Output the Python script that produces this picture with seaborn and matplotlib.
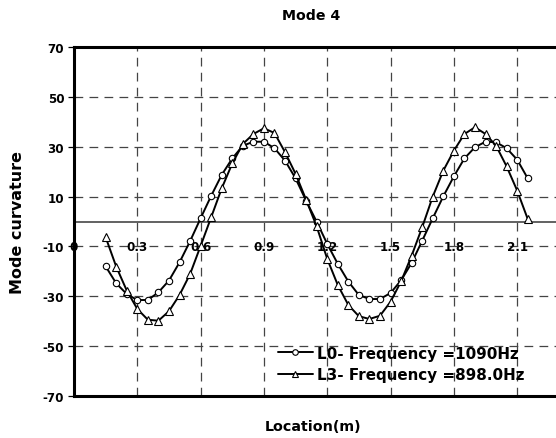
import matplotlib
matplotlib.use("Agg")
import matplotlib.pyplot as plt
import seaborn as sns
import pandas as pd

sns.set_style("white")
plt.rcParams["font.family"] = ["DejaVu Sans"]
plt.rcParams["font.weight"] = "bold"
plt.rcParams["text.color"] = "black"
plt.rcParams["axes.labelcolor"] = "black"
plt.rcParams["xtick.color"] = "black"
plt.rcParams["ytick.color"] = "black"

# Measurement locations along the member (m)
location = [0.15, 0.20, 0.25, 0.30, 0.35, 0.40, 0.45, 0.50, 0.55, 0.60,
            0.65, 0.70, 0.75, 0.80, 0.85, 0.90, 0.95, 1.00, 1.05, 1.10,
            1.15, 1.20, 1.25, 1.30, 1.35, 1.40, 1.45, 1.50, 1.55, 1.60,
            1.65, 1.70, 1.75, 1.80, 1.85, 1.90, 1.95, 2.00, 2.05, 2.10,
            2.15]

# Mode-4 curvature, intact state L0
curv_l0 = [-18.0, -24.8, -29.1, -31.5, -31.5, -28.4, -23.7, -16.4, -7.9, 1.3,
           10.3, 18.7, 25.3, 30.4, 32.0, 32.0, 29.4, 24.4, 17.3, 8.3,
           -0.1, -9.0, -17.0, -24.1, -29.5, -31.1, -31.1, -28.7, -23.6, -16.6,
           -7.7, 1.3, 10.1, 18.1, 25.3, 29.8, 32.0, 31.8, 29.4, 24.8,
           17.3]

# Mode-4 curvature, damage state L3
curv_l3 = [-6.3, -18.1, -27.7, -35.1, -39.4, -39.8, -36.0, -29.5, -21.1, -9.8,
           1.7, 13.3, 23.3, 31.1, 35.1, 37.4, 35.5, 27.8, 19.1, 8.7,
           -2.0, -15.0, -25.5, -33.5, -38.0, -39.1, -37.8, -32.2, -24.0, -13.7,
           -2.3, 10.0, 20.4, 28.4, 35.1, 37.8, 35.1, 30.4, 22.1, 12.4,
           1.0]

labels = ["L0- Frequency =1090Hz", "L3- Frequency =898.0Hz"]
x_ticks = [0, 0.3, 0.6, 0.9, 1.2, 1.5, 1.8, 2.1]
x_tick_labels = ["0", "0.3", "0.6", "0.9", "1.2", "1.5", "1.8", "2.1"]
y_ticks = [-70, -50, -30, -10, 10, 30, 50, 70]

df0 = pd.DataFrame({"Location": location, "Curvature": curv_l0})
df3 = pd.DataFrame({"Location": location, "Curvature": curv_l3})

fig = plt.figure(figsize=(5.56, 4.39), dpi=100)
ax = fig.add_axes([74 / 556, 1 - 397 / 439, 1 - 74 / 556, (397 - 48) / 439])

ax.set_xlim(0, 2.284)
ax.set_ylim(-70, 70)

# dashed grid
grid_kw = dict(color="#444444", lw=0.9, dashes=(7, 5), zorder=1)
for yv in y_ticks[1:-1]:
    ax.axhline(yv, **grid_kw)
for xv in x_ticks[1:]:
    ax.axvline(xv, **grid_kw)

# zero reference line
ax.axhline(0, color="#555555", lw=1.3, zorder=2)

# category labels along the y = -10 row
for xv, lab in zip(x_ticks, x_tick_labels):
    ax.text(xv, -10, lab, ha="center", va="center", fontsize=8.6,
            fontweight="bold", color="black", zorder=3)

line_kw = dict(color="black", lw=1.4, markerfacecolor="white",
               markeredgecolor="black", markeredgewidth=0.8, zorder=4)
sns.lineplot(data=df0, x="Location", y="Curvature", ax=ax, marker="o",
             markersize=4.6, label=labels[0], **line_kw)
sns.lineplot(data=df3, x="Location", y="Curvature", ax=ax, marker="^",
             markersize=5.2, label=labels[1], **line_kw)

ax.set_xticks([])
ax.set_yticks(y_ticks)
ax.set_yticklabels([str(v) for v in y_ticks], fontsize=8.6, fontweight="bold")
ax.tick_params(axis="y", direction="out", length=4, width=0.9, pad=3, left=True,
               colors="black")
ax.set_xlabel("")
ax.set_ylabel("")

for side in ["left", "top", "bottom"]:
    ax.spines[side].set_visible(True)
    ax.spines[side].set_color("black")
    ax.spines[side].set_linewidth(2.2)
ax.spines["right"].set_visible(False)

leg = ax.legend(loc="center left", bbox_to_anchor=((278 - 74) / 482, (397 - 365) / 349),
                frameon=False, handlelength=2.3, handletextpad=0.3,
                labelspacing=0.45, borderpad=0, borderaxespad=0,
                prop={"size": 10.9, "weight": "bold"})
for h in leg.legend_handles:
    h.set_markersize(4)
for t in leg.get_texts():
    t.set_color("black")

fig.text(311 / 556, 1 - 16.5 / 439, "Mode 4", ha="center", va="center",
         fontsize=10.2, fontweight="bold", color="black")
fig.text(18 / 556, 1 - 222 / 439, "Mode curvature", ha="center", va="center",
         rotation=90, fontsize=11.5, fontweight="bold", color="black")
fig.text(313 / 556, 1 - 427 / 439, "Location(m)", ha="center", va="center",
         fontsize=10.3, fontweight="bold", color="black")

fig.savefig("out.png", dpi=100)
